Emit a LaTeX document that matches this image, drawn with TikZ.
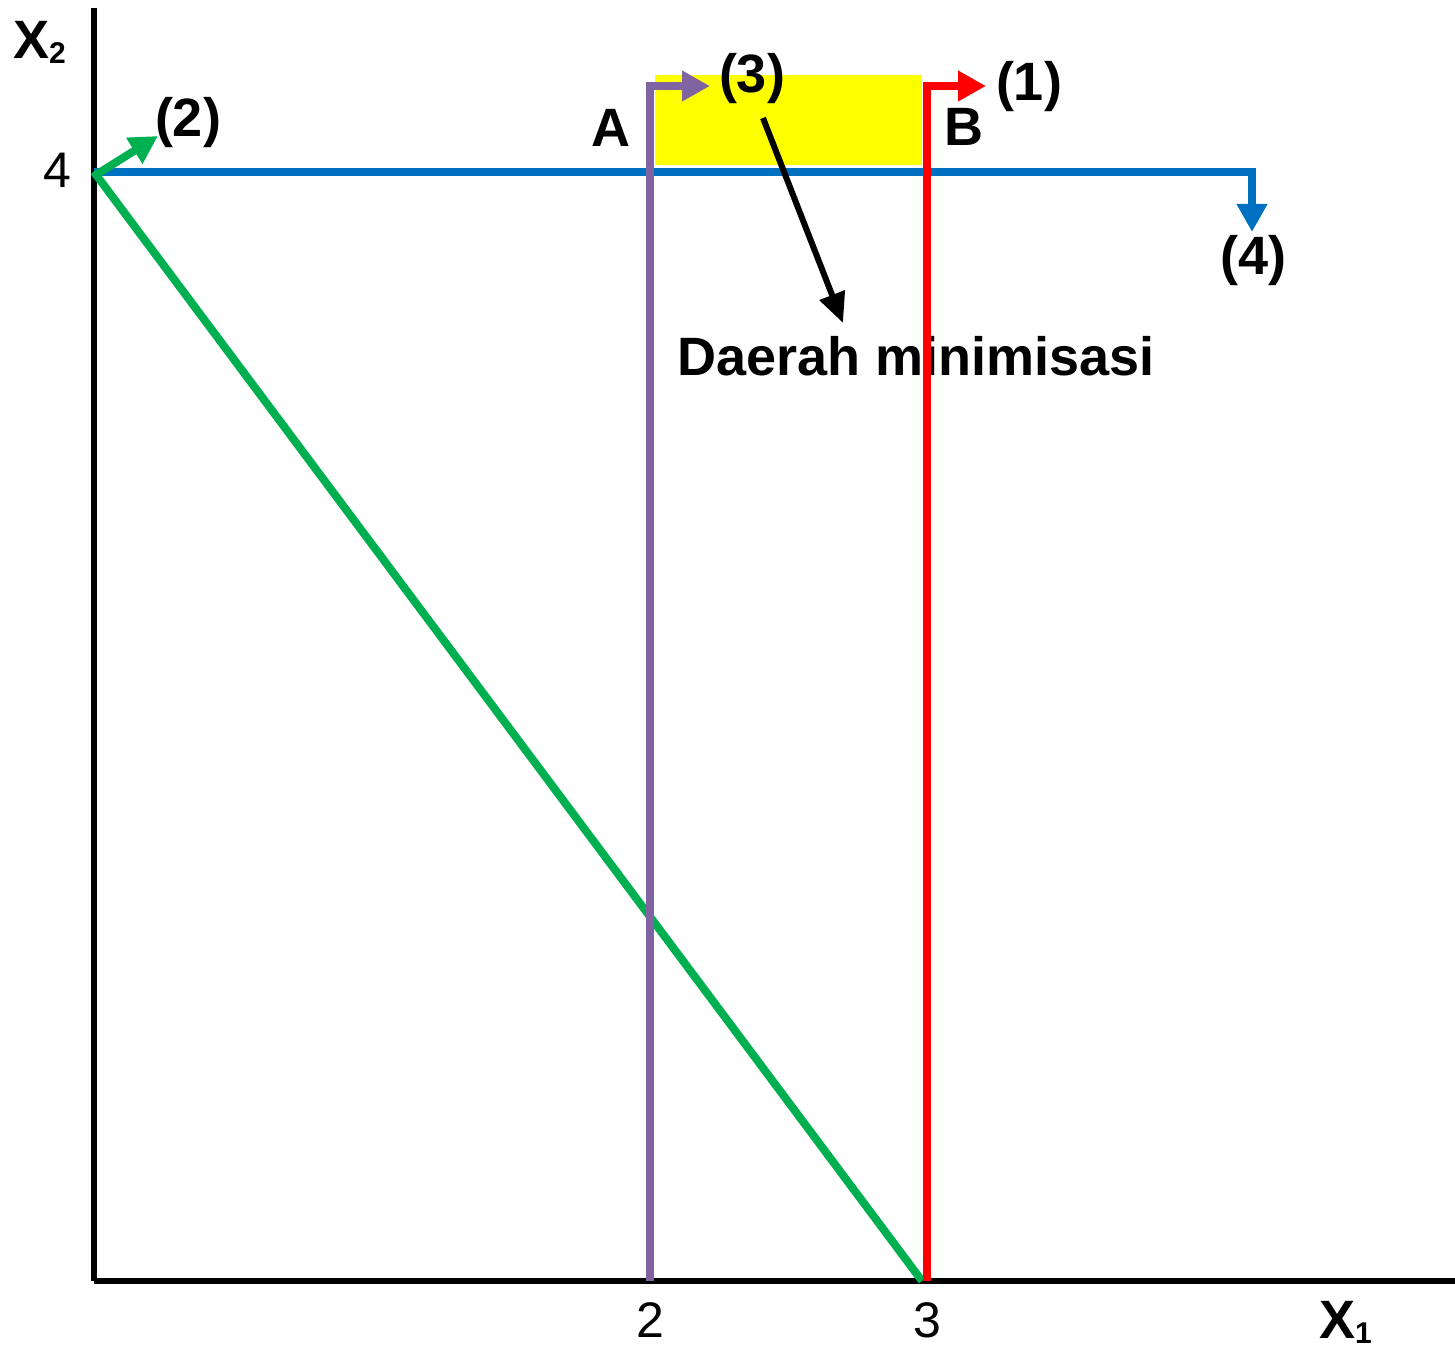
\documentclass[tikz,border=0pt]{standalone}
\usepackage{fontspec}
\setmainfont{Liberation Sans}
\usetikzlibrary{arrows.meta}
\definecolor{lineblue}{HTML}{0070C0}
\definecolor{linegreen}{HTML}{00B050}
\definecolor{linepurple}{HTML}{8064A2}
\definecolor{linered}{HTML}{FF0000}
\definecolor{areayellow}{HTML}{FFFF00}
\newcommand{\lowidx}[1]{\raisebox{-5pt}{\fontsize{30}{30}\selectfont #1}}
\begin{document}
\begin{tikzpicture}[x=1pt,y=-1pt,
    every node/.style={inner sep=0pt},
    lbl/.style={font=\fontsize{54}{60}\selectfont\bfseries},
    ticklbl/.style={font=\fontsize{50}{56}\selectfont},
    axis/.style={line width=6pt},
    cline/.style={line width=8pt},
    tipped/.style={-{Triangle[length=28pt,width=29pt]}}]
    \useasboundingbox (0,0) rectangle (1455,1348);
    \coordinate (O) at (94,1281);
    \coordinate (xend) at (1455,1281);
    \coordinate (yend) at (94,8);
    \coordinate (p4) at (94,172);
    \coordinate (p3) at (922,1281);
    \coordinate (c4) at (1252,172);
    \coordinate (t4) at (1252,232);
    \coordinate (s2) at (94,176);
    \coordinate (t2) at (158,136);
    \coordinate (b3) at (650,1281);
    \coordinate (c3) at (650,86);
    \coordinate (t3) at (710,86);
    \coordinate (b1) at (927,1281);
    \coordinate (c1) at (927,86);
    \coordinate (t1) at (986,86);
    \coordinate (ptr) at (763,118);
    \coordinate (ptrtip) at (843,323);
    \fill [areayellow] (655,75) rectangle (922,165);
    \draw [axis] (O) -- (xend);
    \draw [axis] (O) -- (yend);
    \node [lbl, anchor=base west] (xone) at (1319,1338) {X\lowidx{1}};
    \node [lbl, anchor=base west] (xtwo) at (13,59) {X\lowidx{2}};
    \node [ticklbl, anchor=base] (tick4) at (57,188) {4};
    \node [ticklbl, anchor=base] (tick2) at (650,1337) {2};
    \node [ticklbl, anchor=base] (tick3) at (927,1337) {3};
    \node [lbl, anchor=base] (area) at (916,375) {Daerah minimisasi};
    \draw [cline, lineblue, tipped] (p4) -- (c4) -- (t4);
    \draw [cline, linegreen] (p4) -- (p3);
    \draw [cline, linegreen, tipped] (s2) -- (t2);
    \draw [cline, linepurple, tipped] (b3) -- (c3) -- (t3);
    \draw [cline, linered, tipped] (b1) -- (c1) -- (t1);
    \draw [line width=6pt, -{Triangle[length=30pt,width=26pt]}] (ptr) -- (ptrtip);
    \node [lbl, anchor=base] (lbl1) at (1029,101) {(1)};
    \node [lbl, anchor=base] (lbl2) at (188,137) {(2)};
    \node [lbl, anchor=base] (lbl3) at (752,93) {(3)};
    \node [lbl, anchor=base] (lbl4) at (1253,274) {(4)};
    \node [lbl, anchor=base] (ptA) at (611,147) {A};
    \node [lbl, anchor=base] (ptB) at (964,146) {B};
\end{tikzpicture}
\end{document}
